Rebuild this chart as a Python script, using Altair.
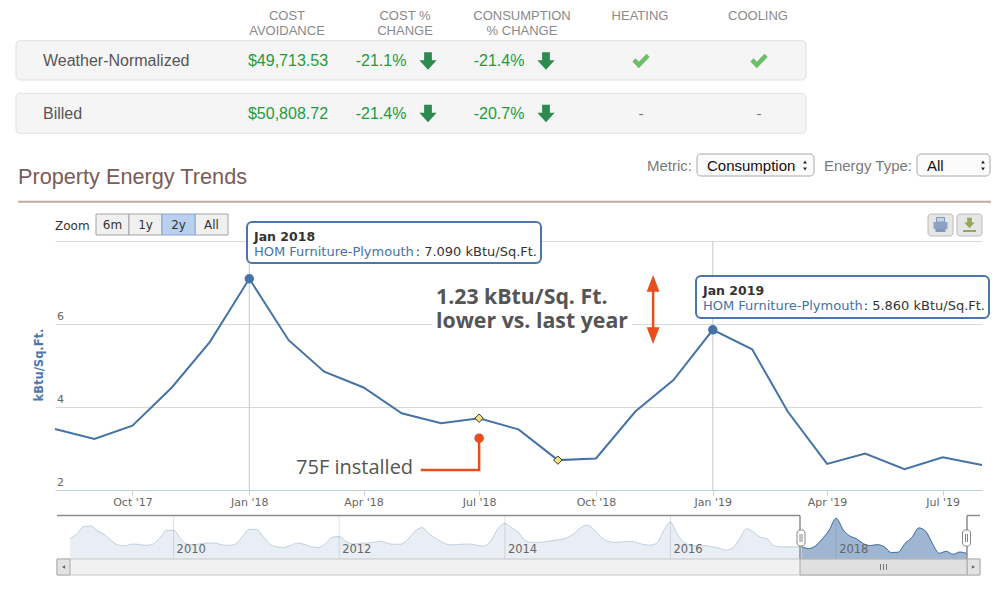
import altair as alt
import pandas as pd

# ------------------------------------------------------------------ data
MAIN_START = "2017-08-01"
EUI_MAIN = [3.47, 3.23, 3.55, 4.47, 5.57, 7.09, 5.61, 4.85, 4.47, 3.85, 3.61, 3.73,
            3.46, 2.72, 2.76, 3.89, 4.65, 5.86, 5.39, 3.89, 2.63, 2.88, 2.50, 2.79, 2.60]
HIST_START = "2008-10-01"
EUI_HIST = [4.47, 5.12, 6.05, 6.10, 5.46, 5.03, 4.25, 3.68, 3.60, 3.81, 3.77, 3.64,
            3.81, 4.56, 5.56, 5.56, 4.47, 3.81, 3.72, 3.86, 3.94, 3.94, 3.72, 3.64,
            3.81, 4.80, 5.69, 5.65, 4.77, 3.81, 3.46, 3.37, 3.64, 3.94, 3.77, 3.46,
            3.37, 3.81, 4.68, 4.77, 4.16, 3.81, 3.90, 3.94, 4.03, 4.16, 3.90, 3.77,
            3.81, 4.47, 5.47, 5.90, 5.10, 4.56, 4.03, 3.72, 3.72, 3.81, 3.81, 3.64,
            3.55, 4.25, 5.77, 6.43, 5.86, 5.30, 4.25, 4.03, 4.03, 4.12, 4.25, 4.38,
            4.60, 5.12, 5.90, 6.21, 5.56, 4.68, 4.16, 4.03, 4.07, 4.16, 4.03, 3.77,
            3.68, 3.90, 5.47, 6.60, 5.03, 4.03, 3.68, 3.60, 3.60, 3.46, 3.29, 3.03,
            3.29, 4.47, 5.77, 5.34, 4.68, 4.51, 3.60, 3.46, 3.46, 3.46]
SERIES_NAME = "HOM Furniture-Plymouth"
UNIT = "kBtu/Sq.Ft."
TIP_IDX = [5, 17]          # Jan 2018, Jan 2019
DIAMOND_IDX = [11, 13]     # Jul 2018, Sep 2018
X_TICKS = ["2017-10-01", "2018-01-01", "2018-04-01", "2018-07-01",
           "2018-10-01", "2019-01-01", "2019-04-01", "2019-07-01"]
Y_GRID = [4, 6, 8]
Y_LABELS = [2, 4, 6]
NAV_YEARS = [2010, 2012, 2014, 2016, 2018]

ROW_LABELS = ["Weather-Normalized", "Billed"]
COST_AVOIDANCE = ["$49,713.53", "$50,808.72"]
COST_CHANGE = [-21.1, -21.4]
CONS_CHANGE = [-21.4, -20.7]
HEATING = [True, False]
COOLING = [True, False]
HEADERS = [["COST", "AVOIDANCE"], ["COST %", "CHANGE"], ["CONSUMPTION", "% CHANGE"],
           ["HEATING"], ["COOLING"]]
TITLE = "Property Energy Trends"
METRIC = "Consumption"
ENERGY_TYPE = "All"
ZOOM_BUTTONS = ["6m", "1y", "2y", "All"]
ZOOM_SELECTED = "2y"

ANNOT_TEXT = ["1.23 kBtu/Sq. Ft.", "lower vs. last year"]
ANNOT_ANCHOR = ("2018-05-28", 6.47)
ARROW_ANCHOR = ("2018-11-15", 7.18, 5.52)
EVENT_TEXT = "75F installed"
EVENT_DOT = ("2018-07-01", 3.25)
EVENT_ELBOW = ("2018-05-16", 2.48)
EVENT_LABEL = ("2018-05-10", 2.52)

# ------------------------------------------------------------------ layout constants
OX, OY = 55, 241          # page position of the plot origin
W, H = 927, 249
RED = "#E84E1B"
BLUE = "#4572A7"
GREEN = "#1E9B3E"


def ts(s):
    return pd.Timestamp(s)


def shift(df, xs, ys):
    df = df.copy()
    for c in xs:
        df[c] = df[c].astype(float) - OX
    for c in ys:
        df[c] = df[c].astype(float) - OY
    return df


PX = dict(scale=None, axis=None)


def ui_text(rows, **kw):
    df = shift(pd.DataFrame(rows, columns=["t", "x", "y"]), ["x"], ["y"])
    return alt.Chart(df).mark_text(**kw).encode(
        x=alt.X("x:Q", **PX), y=alt.Y("y:Q", **PX), text="t:N")


def ui_rect(rows, **kw):
    df = shift(pd.DataFrame(rows, columns=["x", "y", "x2", "y2"]), ["x", "x2"], ["y", "y2"])
    return alt.Chart(df).mark_rect(**kw).encode(
        x=alt.X("x:Q", **PX), x2="x2:Q", y=alt.Y("y:Q", **PX), y2="y2:Q")


def ui_rule(rows, **kw):
    df = shift(pd.DataFrame(rows, columns=["x", "y", "x2", "y2"]), ["x", "x2"], ["y", "y2"])
    return alt.Chart(df).mark_rule(**kw).encode(
        x=alt.X("x:Q", **PX), x2="x2:Q", y=alt.Y("y:Q", **PX), y2="y2:Q")


def ui_shape(rows, **kw):
    df = shift(pd.DataFrame(rows, columns=["x", "y"]), ["x"], ["y"])
    return alt.Chart(df).mark_point(filled=True, opacity=1, **kw).encode(
        x=alt.X("x:Q", **PX), y=alt.Y("y:Q", **PX))


ARROW_DOWN = "M -0.45 -1 L 0.45 -1 L 0.45 -0.1 L 1 -0.1 L 0 1 L -1 -0.1 L -0.45 -0.1 Z"
CHECK = "M -1 0.05 L -0.62 -0.32 L -0.25 0.08 L 0.64 -0.85 L 1 -0.47 L -0.25 0.85 Z"
HEAD_UP = "M 0 0 L 1 2.6 L -1 2.6 Z"
HEAD_DOWN = "M 0 0 L 1 -2.6 L -1 -2.6 Z"

layers = []

# ------------------------------------------------------------------ summary table
layers.append(ui_rect([(16, 40.7, 806, 80), (16, 93.3, 806, 133.3)],
                      fill="#F5F5F5", stroke="#E0E0E0", strokeWidth=1, cornerRadius=4))
HEAD_X = [287, 405, 522, 640, 758]
HEAD_Y = [16, 31]
head_rows = [(line, HEAD_X[i], HEAD_Y[j]) for i, h in enumerate(HEADERS) for j, line in enumerate(h)]
layers.append(ui_text(head_rows, font="Liberation Sans", fontSize=13, color="#8A8A8A",
                      align="center", baseline="middle"))
ROW_Y = [61, 113.5]
layers.append(ui_text([(lab, 43, ROW_Y[i]) for i, lab in enumerate(ROW_LABELS)],
                      font="Liberation Sans", fontSize=16, color="#555555",
                      align="left", baseline="middle"))
green_rows = []
for i in range(2):
    green_rows.append((COST_AVOIDANCE[i], 288, ROW_Y[i]))
    green_rows.append((f"{COST_CHANGE[i]:.1f}%", 381, ROW_Y[i]))
    green_rows.append((f"{CONS_CHANGE[i]:.1f}%", 499, ROW_Y[i]))
layers.append(ui_text(green_rows, font="Liberation Sans", fontSize=16, color=GREEN,
                      align="center", baseline="middle"))
arrow_rows = [(x, ROW_Y[i]) for i in range(2) for x, v in ((428, COST_CHANGE[i]), (546, CONS_CHANGE[i])) if v < 0]
layers.append(ui_shape(arrow_rows, shape=ARROW_DOWN, size=300, color="#2E8B50"))
check_rows, dash_rows = [], []
for i in range(2):
    for x, flag in ((641, HEATING[i]), (759, COOLING[i])):
        if flag:
            check_rows.append((x, ROW_Y[i]))
        else:
            dash_rows.append(("-", x, ROW_Y[i]))
layers.append(ui_shape(check_rows, shape=CHECK, size=300, color="#6DBE6A"))
layers.append(ui_text(dash_rows, font="Liberation Sans", fontSize=15, color="#777777",
                      align="center", baseline="middle"))

# ------------------------------------------------------------------ section header
layers.append(ui_text([(TITLE, 18, 184)], font="Liberation Sans", fontSize=21.7,
                      color="#7A5C58", align="left", baseline="alphabetic"))
layers.append(ui_rule([(18, 201.7, 999, 201.7)], color="#C4A8A6", strokeWidth=2))
layers.append(ui_text([("Metric:", 692, 165.5), ("Energy Type:", 912, 165.5)],
                      font="Liberation Sans", fontSize=15, color="#7A7A7A",
                      align="right", baseline="middle"))
layers.append(ui_rect([(697, 154, 814, 176), (917, 154, 990, 176)],
                      fill="#FBFBFB", stroke="#A8A8A8", strokeWidth=1, cornerRadius=4))
layers.append(ui_text([(METRIC, 707, 165.5), (ENERGY_TYPE, 927, 165.5)],
                      font="Liberation Sans", fontSize=15, color="#111111",
                      align="left", baseline="middle"))
layers.append(ui_shape([(805, 162), (983, 162)], shape="triangle-up", size=14, color="#222222"))
layers.append(ui_shape([(805, 169), (983, 169)], shape="triangle-down", size=14, color="#222222"))

# ------------------------------------------------------------------ range selector & export buttons
layers.append(ui_text([("Zoom", 55, 226)], font="DejaVu Sans", fontSize=12, color="#333333",
                      align="left", baseline="middle"))
BTN_EDGES = [96, 129, 162, 195, 228]
btn_plain = [(BTN_EDGES[i], 214, BTN_EDGES[i + 1], 235) for i, b in enumerate(ZOOM_BUTTONS) if b != ZOOM_SELECTED]
btn_sel = [(BTN_EDGES[i], 214, BTN_EDGES[i + 1], 235) for i, b in enumerate(ZOOM_BUTTONS) if b == ZOOM_SELECTED]
layers.append(ui_rect(btn_plain, fill="#F0F0F0", stroke="#A3A3A3", strokeWidth=1))
layers.append(ui_rect(btn_sel, fill="#B9D0EE", stroke="#8AA4C8", strokeWidth=1))
layers.append(ui_text([(b, (BTN_EDGES[i] + BTN_EDGES[i + 1]) / 2, 225) for i, b in enumerate(ZOOM_BUTTONS)],
                      font="DejaVu Sans", fontSize=12, color="#333333", align="center", baseline="middle"))
layers.append(ui_rect([(928, 214, 953, 236), (957, 214, 982, 236)],
                      fill="#E6E6E6", stroke="#BBBBBB", strokeWidth=1, cornerRadius=3))
layers.append(ui_rect([(936.5, 217.5, 944.5, 222)], fill="#C9D4E4", stroke="#7F97BA", strokeWidth=1))
layers.append(ui_rect([(933.5, 222, 947.5, 229)], fill="#8DA2C2"))
layers.append(ui_rect([(935.5, 229, 945.5, 232)], fill="#7F97BA"))
layers.append(ui_shape([(969.5, 223)], shape=ARROW_DOWN, size=110, color="#93A85E"))
layers.append(ui_rule([(963, 231, 976, 231)], color="#93A85E", strokeWidth=2))

# ------------------------------------------------------------------ main chart
XS = alt.Scale(domain=[alt.DateTime(year=2017, month=8, date=1),
                       alt.DateTime(year=2019, month=8, date=1)], nice=False)
YS = alt.Scale(domain=[2, 8], nice=False, zero=False)
X_AXIS = alt.Axis(values=[alt.DateTime(year=ts(t).year, month=ts(t).month, date=1) for t in X_TICKS],
                  format="%b '%y", labelFont="DejaVu Sans", labelFontSize=11, labelColor="#666666",
                  tickColor="#C0D0E0", domainColor="#C0D0E0", tickSize=5, labelPadding=1,
                  grid=False, title=None, labelFlush=False, labelOverlap=False)
Y_AXIS = alt.Axis(values=Y_GRID, grid=True, gridColor="#D8D8D8", gridWidth=1, labels=False,
                  ticks=False, domain=False, title=None)


def mx(f="date"):
    return alt.X(f"{f}:T", scale=XS, axis=X_AXIS, title=None)


def my(f="v"):
    return alt.Y(f"{f}:Q", scale=YS, axis=Y_AXIS, title=None)


main_df = pd.DataFrame({"date": pd.date_range(MAIN_START, periods=len(EUI_MAIN), freq="MS"),
                        "v": EUI_MAIN})
tips_df = main_df.iloc[TIP_IDX].reset_index(drop=True)
dia_df = main_df.iloc[DIAMOND_IDX].reset_index(drop=True)
one = pd.DataFrame({"a": [0]})

m_layers = []
m_layers.append(alt.Chart(one).mark_rect(color="white").encode(
    x=alt.value(432 - OX), x2=alt.value(632 - OX), y=alt.value(285 - OY), y2=alt.value(333 - OY)))
m_layers.append(alt.Chart(tips_df).mark_rule(color="#C6C6C6", strokeWidth=1).encode(
    x=mx(), y=alt.value(0), y2=alt.value(H)))
m_layers.append(alt.Chart(main_df).mark_line(color=BLUE, strokeWidth=2).encode(x=mx(), y=my()))
m_layers.append(alt.Chart(tips_df).mark_point(filled=True, size=90, color=BLUE, opacity=1).encode(
    x=mx(), y=my()))
m_layers.append(alt.Chart(dia_df).mark_point(shape="diamond", filled=True, size=70, color="#F2E27D",
                                             stroke="#333333", strokeWidth=1, opacity=1).encode(
    x=mx(), y=my()))
m_layers.append(alt.Chart(pd.DataFrame({"v": Y_LABELS})).mark_text(
    font="DejaVu Sans", fontSize=11, color="#666666", align="left", baseline="middle", dy=-7).encode(
    x=alt.value(2), y=my(), text=alt.Text("v:Q", format="d")))
m_layers.append(alt.Chart(one).mark_text(
    text=UNIT, font="DejaVu Sans", fontSize=11.5, fontWeight="bold", color="#4F77AA",
    angle=270, align="center", baseline="middle").encode(x=alt.value(-15), y=alt.value(124)))
# event annotation
conn_df = pd.DataFrame({"date": [ts(EVENT_ELBOW[0]), ts(EVENT_DOT[0]), ts(EVENT_DOT[0])],
                        "v": [EVENT_ELBOW[1], EVENT_ELBOW[1], EVENT_DOT[1]], "o": [0, 1, 2]})
m_layers.append(alt.Chart(conn_df).mark_line(color=RED, strokeWidth=2.5).encode(
    x=mx(), y=my(), order="o:O"))
m_layers.append(alt.Chart(pd.DataFrame({"date": [ts(EVENT_DOT[0])], "v": [EVENT_DOT[1]]})).mark_point(
    filled=True, size=90, color=RED, opacity=1).encode(x=mx(), y=my()))
m_layers.append(alt.Chart(pd.DataFrame({"date": [ts(EVENT_LABEL[0])], "v": [EVENT_LABEL[1]],
                                        "t": [EVENT_TEXT]})).mark_text(
    font="Open Sans", fontSize=20, color="#555555", align="right", baseline="middle").encode(
    x=mx(), y=my(), text="t:N"))
# year-over-year annotation (one two-line text)
ann_df = pd.DataFrame({"date": [ts(ANNOT_ANCHOR[0])], "v": [ANNOT_ANCHOR[1]]})
m_layers.append(alt.Chart(ann_df).mark_text(
    text=ANNOT_TEXT, lineHeight=24, font="Open Sans", fontSize=21.3, fontWeight="bold",
    color="#555555", align="left", baseline="alphabetic").encode(x=mx(), y=my()))
arr_df = pd.DataFrame({"date": [ts(ARROW_ANCHOR[0])], "v": [ARROW_ANCHOR[1] - 0.3],
                       "v2": [ARROW_ANCHOR[2] + 0.3]})
m_layers.append(alt.Chart(arr_df).mark_rule(color=RED, strokeWidth=2.5).encode(
    x=mx(), y=my(), y2="v2:Q"))
m_layers.append(alt.Chart(pd.DataFrame({"date": [ts(ARROW_ANCHOR[0])], "v": [ARROW_ANCHOR[1]]})).mark_point(
    shape=HEAD_UP, filled=True, size=165, color=RED, opacity=1).encode(x=mx(), y=my()))
m_layers.append(alt.Chart(pd.DataFrame({"date": [ts(ARROW_ANCHOR[0])], "v": [ARROW_ANCHOR[2]]})).mark_point(
    shape=HEAD_DOWN, filled=True, size=165, color=RED, opacity=1).encode(x=mx(), y=my()))
layers.append(alt.layer(*m_layers))

# ------------------------------------------------------------------ tooltips
TIP_BOX = [(247, 222, 541, 263), (696, 276, 989, 318)]
layers.append(ui_rect(TIP_BOX, fill="white", stroke=BLUE, strokeWidth=2, cornerRadius=5, opacity=0.97))
layers.append(ui_text([(d.strftime("%b %Y"), TIP_BOX[i][0] + 7, TIP_BOX[i][1] + 15)
                       for i, d in enumerate(tips_df["date"])],
                      font="DejaVu Sans", fontSize=12.5, fontWeight="bold", color="#333333",
                      align="left", baseline="middle"))
layers.append(ui_text([(SERIES_NAME, TIP_BOX[i][0] + 7, TIP_BOX[i][1] + 30) for i in range(2)],
                      font="DejaVu Sans", fontSize=13, color=BLUE, align="left", baseline="middle"))
layers.append(ui_text([(f" : {v:.3f} {UNIT}", TIP_BOX[i][2] - 4, TIP_BOX[i][1] + 30)
                       for i, v in enumerate(tips_df["v"])],
                      font="DejaVu Sans", fontSize=13, color="#333333", align="right", baseline="middle"))

# ------------------------------------------------------------------ navigator
NAV_YMIN = 1.9
NXS = alt.Scale(domain=[alt.DateTime(year=2008, month=10, date=1),
                        alt.DateTime(year=2019, month=8, date=1)],
                range=[70 - OX, 967 - OX], nice=False)
NYS = alt.Scale(domain=[NAV_YMIN, 7.38], range=[559 - OY, 516 - OY], zero=False, nice=False)
nav_df = pd.DataFrame({"date": pd.date_range(HIST_START, periods=len(EUI_HIST) + len(EUI_MAIN), freq="MS"),
                       "v": EUI_HIST + EUI_MAIN})
nav_sel = nav_df[nav_df["date"] >= ts(MAIN_START)]
years_df = pd.DataFrame({"date": [ts(f"{y}-01-01") for y in NAV_YEARS], "t": [str(y) for y in NAV_YEARS]})
nx = alt.X("date:T", scale=NXS, axis=None, title=None)
ny = alt.Y("v:Q", scale=NYS, axis=None, title=None)
n_layers = [
    alt.Chart(years_df).mark_rule(color="#E2E2E2", strokeWidth=1).encode(
        x=nx, y=alt.value(516 - OY), y2=alt.value(559 - OY)),
    alt.Chart(nav_df).mark_area(color=BLUE, opacity=0.12, interpolate="monotone").encode(
        x=nx, y=ny, y2=alt.datum(NAV_YMIN)),
    alt.Chart(nav_df).mark_line(color=BLUE, opacity=0.28, strokeWidth=1, interpolate="monotone").encode(
        x=nx, y=ny),
    alt.Chart(nav_sel).mark_area(color=BLUE, opacity=0.45, interpolate="monotone").encode(
        x=nx, y=ny, y2=alt.datum(NAV_YMIN)),
    alt.Chart(nav_sel).mark_line(color=BLUE, strokeWidth=1, interpolate="monotone").encode(x=nx, y=ny),
    alt.Chart(years_df).mark_text(font="DejaVu Sans", fontSize=11.5, color="#666666", align="left",
                                  baseline="middle", dx=3).encode(
        x=nx, y=alt.value(550 - OY), text="t:N"),
]
layers.append(alt.layer(*n_layers))

# navigator chrome
layers.append(ui_rule([(57, 515.5, 800, 515.5), (800, 515.5, 800, 559), (967, 559, 967, 515.5),
                       (967, 515.5, 980, 515.5)], color="#8C8C8C", strokeWidth=1.5))
layers.append(ui_rect([(57, 559, 980, 575)], fill="#F1F1F1", stroke="#C8C8C8", strokeWidth=1))
layers.append(ui_rect([(57, 559, 70, 575), (967, 559, 980, 575)], fill="#E3E3E3", stroke="#ABABAB", strokeWidth=1))
layers.append(ui_rect([(800, 559, 967, 575)], fill="#E0E0E0", stroke="#A8A8A8", strokeWidth=1))
layers.append(ui_rule([(880.5, 564, 880.5, 570), (883.5, 564, 883.5, 570), (886.5, 564, 886.5, 570)],
                      color="#777777", strokeWidth=1))
layers.append(ui_shape([(63.5, 567)], shape="triangle-left", size=14, color="#666666"))
layers.append(ui_shape([(973.5, 567)], shape="triangle-right", size=14, color="#666666"))
layers.append(ui_rect([(797, 530, 805, 546), (962.5, 530, 970.5, 546)], fill="white", stroke="#888888",
                      strokeWidth=1, cornerRadius=3))
layers.append(ui_rule([(800, 534, 800, 542), (802, 534, 802, 542), (965.5, 534, 965.5, 542),
                       (967.5, 534, 967.5, 542)], color="#888888", strokeWidth=1))

chart = alt.layer(*layers).resolve_scale(x="independent", y="independent").properties(
    width=W, height=H,
    padding={"left": OX - 8, "top": OY - 8, "right": 9, "bottom": 98},
    autosize=alt.AutoSizeParams(type="none"),
    background="white",
).configure_view(stroke=None)

chart.save("out.html", embed_options={"renderer": "svg", "actions": False})
